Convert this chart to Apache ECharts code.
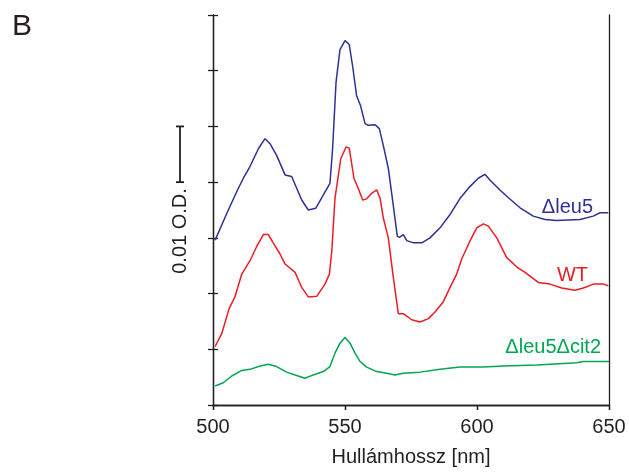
<!DOCTYPE html>
<html>
<head>
<meta charset="utf-8">
<script src="https://cdn.jsdelivr.net/npm/echarts@6/dist/echarts.min.js"></script>
<style>html,body{margin:0;padding:0;background:#fff}#c{width:629px;height:472px}</style>
</head>
<body>
<div id="c"></div>
<script>
// Δleu5 (blue)
const leu5X = [500.8,505.8,509.6,511.5,514,517.2,519.7,521.6,524.1,527.3,529.8,531.7,533.6,536.1,538.9,541.8,544.3,545.3,546.6,548.1,550,551.6,552.9,554.4,555.9,557.6,558.8,561.4,563,564.5,566.4,568.1,569.8,570.6,572.1,573.4,575.9,579.1,582.2,586,589.8,593.6,597.3,600.5,603,604.9,608.7,611.9,616.3,621.3,625.8,630.2,639,644,646.6,649.7];
const leu5Y = [0.0296,0.0350,0.0389,0.0407,0.0428,0.0460,0.0478,0.0469,0.0448,0.0413,0.0410,0.0389,0.0368,0.0350,0.0353,0.0377,0.0398,0.0460,0.0579,0.0638,0.0654,0.0647,0.0608,0.0555,0.0537,0.0505,0.0502,0.0503,0.0496,0.0466,0.0425,0.0365,0.0303,0.0301,0.0306,0.0295,0.0291,0.0291,0.0300,0.0318,0.0342,0.0371,0.0392,0.0407,0.0414,0.0404,0.0386,0.0372,0.0354,0.0339,0.0333,0.0331,0.0333,0.0339,0.0345,0.0345];
// WT (red)
const wtX = [500.8,503.3,506.1,508.3,510.9,514,516.6,519.1,521,522.8,525.4,527.3,531.1,533.6,536.1,539.3,542.4,544.1,545,546.2,548.4,550.4,551.6,553.4,555,556.7,558.2,560.1,562,563.3,564.5,566.4,568.3,570.2,572.1,575.3,578.4,581.6,584.1,587.2,589.8,592.3,594.2,597.3,599.9,602.4,604.3,607.5,611.2,615,618.2,623.2,627.7,632.1,637.1,640.3,644.1,647.9,649.7];
const wtY = [0.0105,0.0128,0.0173,0.0194,0.0235,0.0259,0.0285,0.0306,0.0306,0.0291,0.0271,0.0253,0.0238,0.0211,0.0194,0.0195,0.0217,0.0235,0.0277,0.0371,0.0442,0.0463,0.0461,0.0407,0.0389,0.0368,0.0370,0.0380,0.0386,0.0371,0.0336,0.0300,0.0229,0.0164,0.0164,0.0153,0.0149,0.0155,0.0167,0.0185,0.0211,0.0235,0.0262,0.0294,0.0318,0.0325,0.0321,0.0300,0.0265,0.0248,0.0238,0.0220,0.0217,0.0210,0.0206,0.0210,0.0217,0.0217,0.0214];
// Δleu5Δcit2 (green)
const dblX = [500.8,503.9,507.1,510.9,514,517.8,521,524.1,527.9,531.7,534.8,538,541.8,544.3,546.2,548.1,550,551.9,553.8,555.7,558.2,562,565.8,568.9,572.1,578.4,586,593.6,602.4,610,622.6,637.8,640.3,650];
const dblY = [0.0034,0.0040,0.0052,0.0062,0.0064,0.0070,0.0073,0.0069,0.0059,0.0053,0.0048,0.0054,0.0060,0.0069,0.0093,0.0111,0.0121,0.0111,0.0093,0.0078,0.0068,0.0060,0.0057,0.0054,0.0057,0.0059,0.0064,0.0068,0.0068,0.0070,0.0072,0.0076,0.0078,0.0078];

const xTicks = [500, 550, 600, 650];
const seriesNames = ['Δleu5', 'WT', 'Δleu5Δcit2'];
const axisTitle = 'Hullámhossz [nm]';
const scaleLabel = '0.01 O.D.';
const panelLetter = 'B';

const FONT = '"Liberation Sans", Arial, sans-serif';
const AX = '#231f20';
const pairs = (xs, ys) => xs.map((x, i) => [x, ys[i]]);

const chart = echarts.init(document.getElementById('c'), null, {renderer: 'canvas'});
const lineStyle = w => ({width: w, color: AX});
const xBase = {type: 'value', min: 500, max: 650, interval: 50,
  axisLine: {show: true, lineStyle: lineStyle(1.3)}, splitLine: {show: false}};
const yBase = {type: 'value', min: 0, max: 0.07, interval: 0.01,
  axisLine: {show: true, lineStyle: lineStyle(1.3)}, splitLine: {show: false}, axisLabel: {show: false}};

chart.setOption({
  animation: false,
  grid: {left: 213, right: 20, top: 15, bottom: 63},
  xAxis: [
    Object.assign({}, xBase, {
      axisTick: {show: true, length: 5, lineStyle: lineStyle(1.3)},
      axisLabel: {fontFamily: FONT, fontSize: 20, color: '#231f20', margin: 12,
        formatter: v => xTicks.includes(v) ? String(v) : ''},
      name: axisTitle, nameLocation: 'middle', nameGap: 42,
      nameTextStyle: {fontFamily: FONT, fontSize: 20, color: '#231f20'}
    }),
    Object.assign({}, xBase, {
      axisTick: {show: true, inside: true, length: 5, lineStyle: lineStyle(1.3)},
      axisLabel: {show: false}
    })
  ],
  yAxis: [
    Object.assign({}, yBase, {position: 'left', axisTick: {show: true, length: 5, lineStyle: lineStyle(1.3)}}),
    Object.assign({}, yBase, {position: 'left', axisTick: {show: true, inside: true, length: 5, lineStyle: lineStyle(1.3)}}),
    Object.assign({}, yBase, {position: 'right', axisTick: {show: false}})
  ],
  series: [
    {name: seriesNames[0], type: 'line', data: pairs(leu5X, leu5Y), showSymbol: false,
      lineStyle: {color: '#2e3192', width: 1.5}},
    {name: seriesNames[1], type: 'line', data: pairs(wtX, wtY), showSymbol: false,
      lineStyle: {color: '#ed1c24', width: 1.5}},
    {name: seriesNames[2], type: 'line', data: pairs(dblX, dblY), showSymbol: false,
      lineStyle: {color: '#00a651', width: 1.5}}
  ]
});

const yTop = chart.convertToPixel({yAxisIndex: 0}, 0.05);
const yBot = chart.convertToPixel({yAxisIndex: 0}, 0.04);
chart.setOption({
  graphic: [
    {type: 'text', x: 12, y: 27, style: {text: panelLetter, fontFamily: FONT, fontSize: 30, fill: '#231f20', verticalAlign: 'middle'}},
    {type: 'line', shape: {x1: 180, y1: yTop, x2: 180, y2: yBot}, style: {stroke: AX, lineWidth: 1.8}},
    {type: 'line', shape: {x1: 176, y1: yTop, x2: 184, y2: yTop}, style: {stroke: AX, lineWidth: 1.8}},
    {type: 'line', shape: {x1: 176, y1: yBot, x2: 184, y2: yBot}, style: {stroke: AX, lineWidth: 1.8}},
    {type: 'text', x: 180.5, y: 231, rotation: Math.PI / 2,
      style: {text: scaleLabel, fontFamily: FONT, fontSize: 20, fill: '#231f20', align: 'center', verticalAlign: 'middle'}},
    {type: 'text', x: 593, y: 207, style: {text: seriesNames[0], fontFamily: FONT, fontSize: 20, fill: '#2e3192', align: 'right', verticalAlign: 'middle'}},
    {type: 'text', x: 588, y: 275, style: {text: seriesNames[1], fontFamily: FONT, fontSize: 20, fill: '#ed1c24', align: 'right', verticalAlign: 'middle'}},
    {type: 'text', x: 601, y: 347, style: {text: seriesNames[2], fontFamily: FONT, fontSize: 20, fill: '#00a651', align: 'right', verticalAlign: 'middle'}}
  ]
});
</script>
</body>
</html>
